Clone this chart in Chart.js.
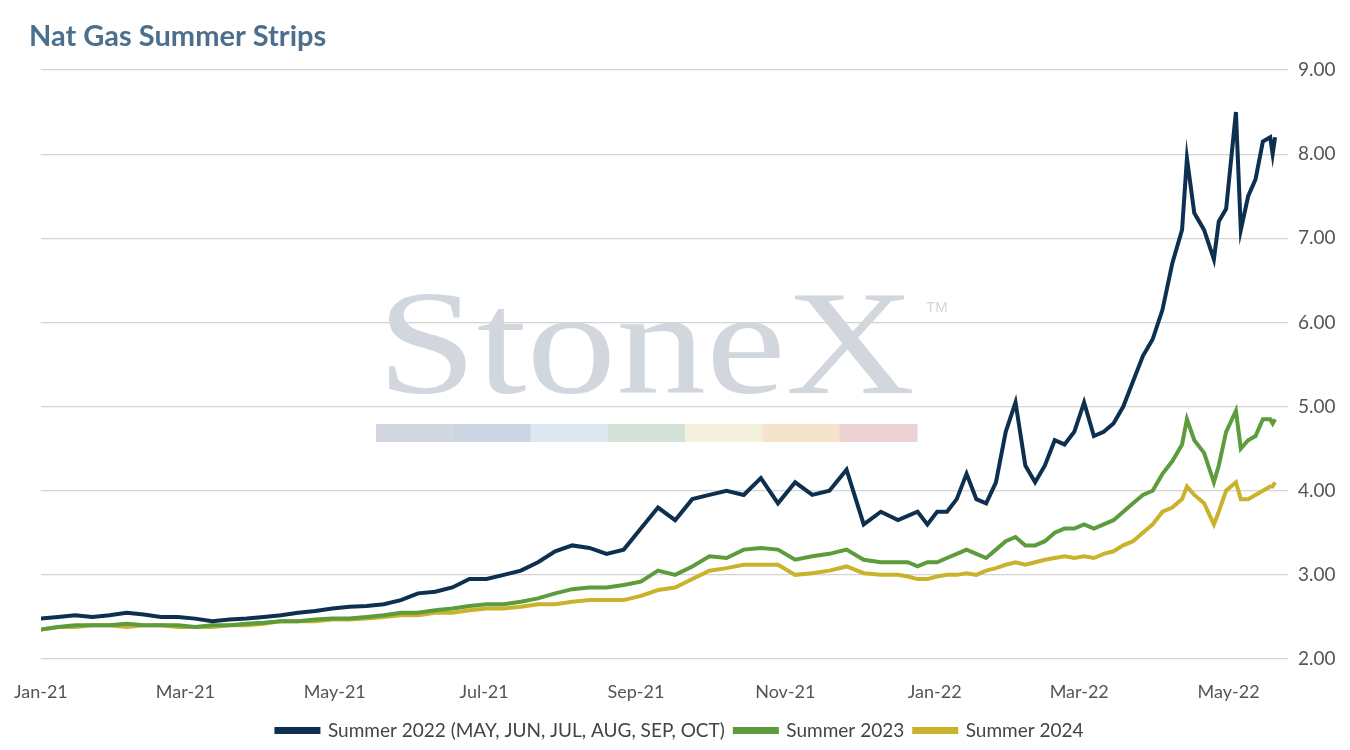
<!DOCTYPE html>
<html>
<head>
<meta charset="utf-8">
<script src="https://cdn.jsdelivr.net/npm/chart.js@4"></script>
<style>
  html, body { margin: 0; padding: 0; background: #fff; }
  #wrap { width: 1350px; height: 750px; }
</style>
</head>
<body>
<div id="wrap"><canvas id="chart"></canvas></div>
<script>
'use strict';

// Days since 1 Jan 2021
const days = [
    0, 7, 14, 21, 28, 35, 42, 49, 56, 63, 70, 77, 84, 91, 98, 105, 112, 119, 126, 133,
    140, 147, 154, 161, 168, 175, 182, 189, 196, 203, 210, 217, 224, 231, 238, 245, 252, 259, 266, 273,
    280, 287, 294, 301, 308, 315, 322, 329, 336, 343, 350,
    354, 358, 362, 366, 370, 374, 378, 382, 386, 390, 394, 398, 402, 406, 410, 414, 418, 422, 426, 430,
    434, 438, 442, 446, 450, 454, 458, 462, 466, 468, 471, 475, 479, 481, 484, 488, 490, 493, 496, 499,
    502, 503, 504
];

const summer2022 = [
    2.48, 2.5, 2.52, 2.5, 2.52, 2.55, 2.53, 2.5, 2.5, 2.48, 2.45, 2.47, 2.48, 2.5, 2.52, 2.55, 2.57, 2.6, 2.62, 2.63,
    2.65, 2.7, 2.78, 2.8, 2.85, 2.95, 2.95, 3.0, 3.05, 3.15, 3.28, 3.35, 3.32, 3.25, 3.3, 3.55, 3.8, 3.65, 3.9, 3.95,
    4.0, 3.95, 4.15, 3.85, 4.1, 3.95, 4.0, 4.25, 3.6, 3.75, 3.65,
    3.7, 3.75, 3.6, 3.75, 3.75, 3.9, 4.2, 3.9, 3.85, 4.1, 4.7, 5.05, 4.3, 4.1, 4.3, 4.6, 4.55, 4.7, 5.05, 4.65,
    4.7, 4.8, 5.0, 5.3, 5.6, 5.8, 6.15, 6.7, 7.1, 7.95, 7.3, 7.1, 6.75, 7.2, 7.35, 8.5, 7.1, 7.5, 7.7, 8.15,
    8.2, 8.0, 8.2
];

const summer2023 = [
    2.35, 2.38, 2.4, 2.4, 2.4, 2.42, 2.4, 2.4, 2.4, 2.38, 2.4, 2.4, 2.42, 2.43, 2.45, 2.45, 2.47, 2.48, 2.48, 2.5,
    2.52, 2.55, 2.55, 2.58, 2.6, 2.63, 2.65, 2.65, 2.68, 2.72, 2.78, 2.83, 2.85, 2.85, 2.88, 2.92, 3.05, 3.0, 3.1, 3.22,
    3.2, 3.3, 3.32, 3.3, 3.18, 3.22, 3.25, 3.3, 3.18, 3.15, 3.15,
    3.15, 3.1, 3.15, 3.15, 3.2, 3.25, 3.3, 3.25, 3.2, 3.3, 3.4, 3.45, 3.35, 3.35, 3.4, 3.5, 3.55, 3.55, 3.6, 3.55,
    3.6, 3.65, 3.75, 3.85, 3.95, 4.0, 4.2, 4.35, 4.55, 4.85, 4.6, 4.45, 4.1, 4.3, 4.7, 4.95, 4.5, 4.6, 4.65, 4.85,
    4.85, 4.8, 4.85
];

const summer2024 = [
    2.35, 2.38, 2.38, 2.4, 2.4, 2.38, 2.4, 2.4, 2.38, 2.38, 2.38, 2.4, 2.4, 2.42, 2.45, 2.45, 2.45, 2.47, 2.47, 2.48,
    2.5, 2.52, 2.52, 2.55, 2.55, 2.58, 2.6, 2.6, 2.62, 2.65, 2.65, 2.68, 2.7, 2.7, 2.7, 2.75, 2.82, 2.85, 2.95, 3.05,
    3.08, 3.12, 3.12, 3.12, 3.0, 3.02, 3.05, 3.1, 3.02, 3.0, 3.0,
    2.98, 2.95, 2.95, 2.98, 3.0, 3.0, 3.02, 3.0, 3.05, 3.08, 3.12, 3.15, 3.12, 3.15, 3.18, 3.2, 3.22, 3.2, 3.22, 3.2,
    3.25, 3.28, 3.35, 3.4, 3.5, 3.6, 3.75, 3.8, 3.9, 4.05, 3.95, 3.85, 3.6, 3.75, 4.0, 4.1, 3.9, 3.9, 3.95, 4.0,
    4.05, 4.05, 4.1
];

const tickDays = [0, 59, 120, 181, 243, 304, 365, 424, 485];
const tickLabels = ['Jan-21', 'Mar-21', 'May-21', 'Jul-21', 'Sep-21', 'Nov-21', 'Jan-22', 'Mar-22', 'May-22'];

const seriesNames = ['Summer 2022 (MAY, JUN, JUL, AUG, SEP, OCT)', 'Summer 2023', 'Summer 2024'];
const seriesColors = ['#0e3050', '#5c9c3c', '#c9b22c'];

// =========================================================
// TITLE + WATERMARK
// =========================================================

const decorPlugin = {
    id: 'decor',
    beforeDatasetsDraw: (chart) => {
        const ctx = chart.ctx;
        ctx.save();

        // StoneX logo, stretched to the reference width
        ctx.fillStyle = '#d2d7de';
        ctx.font = '148px "Liberation Serif", "DejaVu Serif", serif';
        ctx.textBaseline = 'alphabetic';
        const textWidth = ctx.measureText('StoneX').width;
        ctx.translate(377, 393);
        ctx.scale(538 / textWidth, 1);
        ctx.fillText('StoneX', 0, 0);
        ctx.setTransform(1, 0, 0, 1, 0, 0);
        ctx.font = '15px "Liberation Sans", sans-serif';
        ctx.fillText('TM', 926, 312);

        const stripe = ['#d2d7e0', '#ccd6e3', '#dde8f2', '#d3e2d8', '#f3f1dc', '#f5e3cc', '#ecd2d2'];
        const w = 541 / stripe.length;
        stripe.forEach((c, i) => {
            ctx.fillStyle = c;
            ctx.fillRect(376 + i * w, 424, w + 0.5, 18);
        });
        ctx.restore();
    },
    afterDraw: (chart) => {
        const ctx = chart.ctx;
        ctx.save();
        ctx.fillStyle = '#4b6f8c';
        ctx.font = 'bold 29px Lato';
        ctx.textBaseline = 'middle';
        ctx.fillText('Nat Gas Summer Strips', 29, 37);
        ctx.restore();
    }
};

const datasets = [summer2022, summer2023, summer2024].map((values, i) => ({
    label: seriesNames[i],
    data: values.map((v, j) => ({ x: days[j], y: v })),
    borderColor: seriesColors[i],
    backgroundColor: seriesColors[i],
    borderWidth: 4,
    pointRadius: 0,
    tension: 0,
}));

new Chart(document.querySelector('#chart'), {
    type: 'line',
    data: { datasets: datasets },
    plugins: [decorPlugin],
    options: {
        responsive: true,
        maintainAspectRatio: false,
        animation: false,
        layout: { padding: { left: 10, right: 0, top: 70, bottom: 0 } },
        plugins: {
            title: { display: false },
            legend: {
                position: 'bottom',
                labels: {
                    boxWidth: 42,
                    boxHeight: 3,
                    color: '#444',
                    font: { family: 'Lato', size: 19 },
                    padding: 10,
                },
            },
            tooltip: { enabled: false },
        },
        scales: {
            x: {
                type: 'linear',
                min: 0,
                max: 506,
                afterBuildTicks: (axis) => {
                    axis.ticks = tickDays.map((d) => ({ value: d }));
                },
                afterFit: (axis) => {
                    axis.height = 52;
                },
                ticks: {
                    color: '#555',
                    padding: 14,
                    font: { family: 'Lato', size: 18 },
                    maxRotation: 0,
                    autoSkip: false,
                    callback: (value) => tickLabels[tickDays.indexOf(value)],
                },
                grid: { display: false },
                border: { display: false },
            },
            y: {
                position: 'right',
                min: 2,
                max: 9,
                afterFit: (axis) => {
                    axis.width = 70;
                },
                ticks: {
                    stepSize: 1,
                    color: '#555',
                    padding: 10,
                    font: { family: 'Lato', size: 19 },
                    callback: (value) => value.toFixed(2),
                },
                grid: { color: '#d4d4d4', lineWidth: 1.2 },
                border: { display: false },
            },
        },
    },
});
</script>
</body>
</html>
